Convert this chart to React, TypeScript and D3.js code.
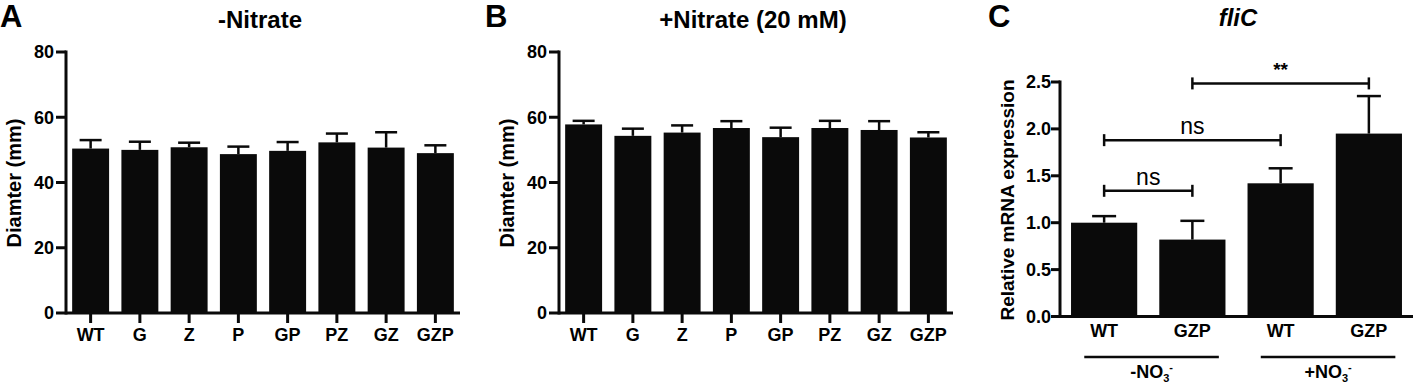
import React from "react";
import * as d3 from "d3";

// Panels A and B: swimming diameter per strain
const strains = ["WT", "G", "Z", "P", "GP", "PZ", "GZ", "GZP"];
const diameterNoNitrate = [50.4, 50.0, 50.8, 48.7, 49.7, 52.3, 50.7, 49.0];
const diameterNoNitrateErr = [2.6, 2.5, 1.4, 2.3, 2.7, 2.7, 4.7, 2.4];
const diameterNitrate = [57.8, 54.3, 55.3, 56.7, 53.9, 56.7, 56.1, 53.8];
const diameterNitrateErr = [1.1, 2.2, 2.2, 2.1, 2.9, 2.2, 2.7, 1.6];
const diameterTicks = [0, 20, 40, 60, 80];

// Panel C: fliC relative expression
const fliCKeys = ["WT-", "GZP-", "WT+", "GZP+"];
const fliCLabels = ["WT", "GZP", "WT", "GZP"];
const fliCValues = [1.0, 0.82, 1.42, 1.95];
const fliCErr = [0.07, 0.2, 0.16, 0.4];
const fliCTicks = [0, 0.5, 1.0, 1.5, 2.0, 2.5];
const conditionSigns = ["-", "+"];
const conditionMembers = [["WT-", "GZP-"], ["WT+", "GZP+"]];
const sigFrom = ["WT-", "WT-", "GZP-"];
const sigTo = ["GZP-", "WT+", "GZP+"];
const sigLevel = [1.34, 1.88, 2.485];
const sigText = ["ns", "ns", "**"];

const FONT = "'Liberation Sans', Arial, Helvetica, sans-serif";
const BAR = "#0a0a0a";

interface IDiameterPanelProps {
    ox: number;
    letter: string;
    title: string;
    values: number[];
    errors: number[];
}

const DiameterPanel = ({ ox, letter, title, values, errors }: IDiameterPanelProps): React.ReactElement => {
    const x = d3.scaleBand<string>()
        .domain(strains)
        .range([66 + ox, 460 + ox])
        .paddingInner(0.25)
        .paddingOuter(0.125);
    const y = d3.scaleLinear().domain([0, 80]).range([313, 52]);
    const bw = x.bandwidth();
    const x0 = x.range()[0];
    const x1 = x.range()[1];

    return (
        <g fontFamily={FONT} fontWeight="bold">
            <text x={ox === 0 ? 0 : ox - 8} y={27} fontSize={31}>{letter}</text>
            <text x={260 + ox} y={28} fontSize={24} textAnchor="middle">{title}</text>

            {strains.map((s, i) => {
                const cx = (x(s) ?? 0) + bw / 2;
                return (
                    <g key={s}>
                        <rect x={x(s)} y={y(values[i])} width={bw} height={y(0) - y(values[i])} fill={BAR} />
                        <line x1={cx} x2={cx} y1={y(values[i])} y2={y(values[i] + errors[i])}
                            stroke={BAR} strokeWidth={2.5} />
                        <line x1={cx - 11} x2={cx + 11} y1={y(values[i] + errors[i])} y2={y(values[i] + errors[i])}
                            stroke={BAR} strokeWidth={2.5} />
                        <line x1={cx} x2={cx} y1={y(0)} y2={y(0) + 10} stroke={BAR} strokeWidth={3} />
                        <text x={cx} y={341} fontSize={18} textAnchor="middle">{s}</text>
                    </g>
                );
            })}

            {/* axes */}
            <line x1={x0} x2={x0} y1={y(80) - 1.5} y2={y(0) + 1.5} stroke={BAR} strokeWidth={3} />
            <line x1={x0} x2={x1} y1={y(0)} y2={y(0)} stroke={BAR} strokeWidth={3} />
            {diameterTicks.map((t) => (
                <g key={t}>
                    <line x1={x0 - 10} x2={x0} y1={y(t)} y2={y(t)} stroke={BAR} strokeWidth={3} />
                    <text x={x0 - 12} y={y(t)} dy="0.36em" fontSize={18} textAnchor="end">{t}</text>
                </g>
            ))}
            <text transform={`translate(${21 + ox},183) rotate(-90)`} fontSize={20} textAnchor="middle">
                Diamter (mm)
            </text>
        </g>
    );
};

const FliCPanel = (): React.ReactElement => {
    const x = d3.scaleBand<string>()
        .domain(fliCKeys)
        .range([1060, 1413])
        .paddingInner(0.25)
        .paddingOuter(0.125);
    const y = d3.scaleLinear().domain([0, 2.5]).range([316.5, 82]);
    const bw = x.bandwidth();
    const cx = (k: string): number => (x(k) ?? 0) + bw / 2;
    const x0 = x.range()[0];
    const x1 = x.range()[1];

    return (
        <g fontFamily={FONT} fontWeight="bold">
            <text x={988} y={27} fontSize={31}>C</text>
            <text x={1238} y={26} fontSize={24} fontStyle="italic" textAnchor="middle">fliC</text>

            {fliCKeys.map((k, i) => (
                <g key={k}>
                    <rect x={x(k)} y={y(fliCValues[i])} width={bw} height={y(0) - y(fliCValues[i])} fill={BAR} />
                    <line x1={cx(k)} x2={cx(k)} y1={y(fliCValues[i])} y2={y(fliCValues[i] + fliCErr[i])}
                        stroke={BAR} strokeWidth={2.5} />
                    <line x1={cx(k) - 12} x2={cx(k) + 12}
                        y1={y(fliCValues[i] + fliCErr[i])} y2={y(fliCValues[i] + fliCErr[i])}
                        stroke={BAR} strokeWidth={2.5} />
                    <text x={cx(k)} y={337} fontSize={18} textAnchor="middle">{fliCLabels[i]}</text>
                </g>
            ))}

            {/* axes */}
            <line x1={x0} x2={x0} y1={y(2.5) - 1.5} y2={y(0) + 1.5} stroke={BAR} strokeWidth={3} />
            <line x1={x0} x2={x1} y1={y(0)} y2={y(0)} stroke={BAR} strokeWidth={3} />
            {fliCTicks.map((t) => (
                <g key={t}>
                    <line x1={x0 - 9} x2={x0} y1={y(t)} y2={y(t)} stroke={BAR} strokeWidth={3} />
                    <text x={x0 - 9} y={y(t)} dy="0.36em" fontSize={18} textAnchor="end">{d3.format(".1f")(t)}</text>
                </g>
            ))}
            <text transform="translate(1014,200) rotate(-90)" fontSize={19} textAnchor="middle">
                Relative mRNA expression
            </text>

            {/* significance brackets */}
            {sigText.map((s, i) => {
                const a = cx(sigFrom[i]);
                const b = cx(sigTo[i]);
                const ly = y(sigLevel[i]);
                return (
                    <g key={i}>
                        <line x1={a} x2={b} y1={ly} y2={ly} stroke={BAR} strokeWidth={2.5} />
                        <line x1={a} x2={a} y1={ly - 6} y2={ly + 6} stroke={BAR} strokeWidth={2.5} />
                        <line x1={b} x2={b} y1={ly - 6} y2={ly + 6} stroke={BAR} strokeWidth={2.5} />
                        {s === "**"
                            ? <text x={(a + b) / 2} y={ly - 7} fontSize={19} textAnchor="middle">{s}</text>
                            : <text x={(a + b) / 2} y={ly - 6} fontSize={23} fontWeight="normal"
                                textAnchor="middle">{s}</text>}
                    </g>
                );
            })}

            {/* condition groups */}
            {conditionSigns.map((sign, i) => {
                const first = conditionMembers[i][0];
                const last = conditionMembers[i][conditionMembers[i].length - 1];
                const gx0 = (x(first) ?? 0) + bw * 0.2;
                const gx1 = (x(last) ?? 0) + bw * 0.9;
                return (
                    <g key={sign}>
                        <line x1={gx0} x2={gx1} y1={357} y2={357} stroke={BAR} strokeWidth={2.5} />
                        <text x={(gx0 + gx1) / 2} y={378} fontSize={18} textAnchor="middle">
                            {sign}NO<tspan dy={4} fontSize={11}>3</tspan><tspan dy={-11} fontSize={11}>-</tspan>
                        </text>
                    </g>
                );
            })}
        </g>
    );
};

const App = (): React.ReactElement => {
    return (
        <svg width={1417} height={387} style={{ position: "absolute", left: 0, top: 0, background: "#fff" }}>
            <DiameterPanel ox={0} letter="A" title="-Nitrate"
                values={diameterNoNitrate} errors={diameterNoNitrateErr} />
            <DiameterPanel ox={493} letter="B" title="+Nitrate (20 mM)"
                values={diameterNitrate} errors={diameterNitrateErr} />
            <FliCPanel />
        </svg>
    );
};

export default App;
